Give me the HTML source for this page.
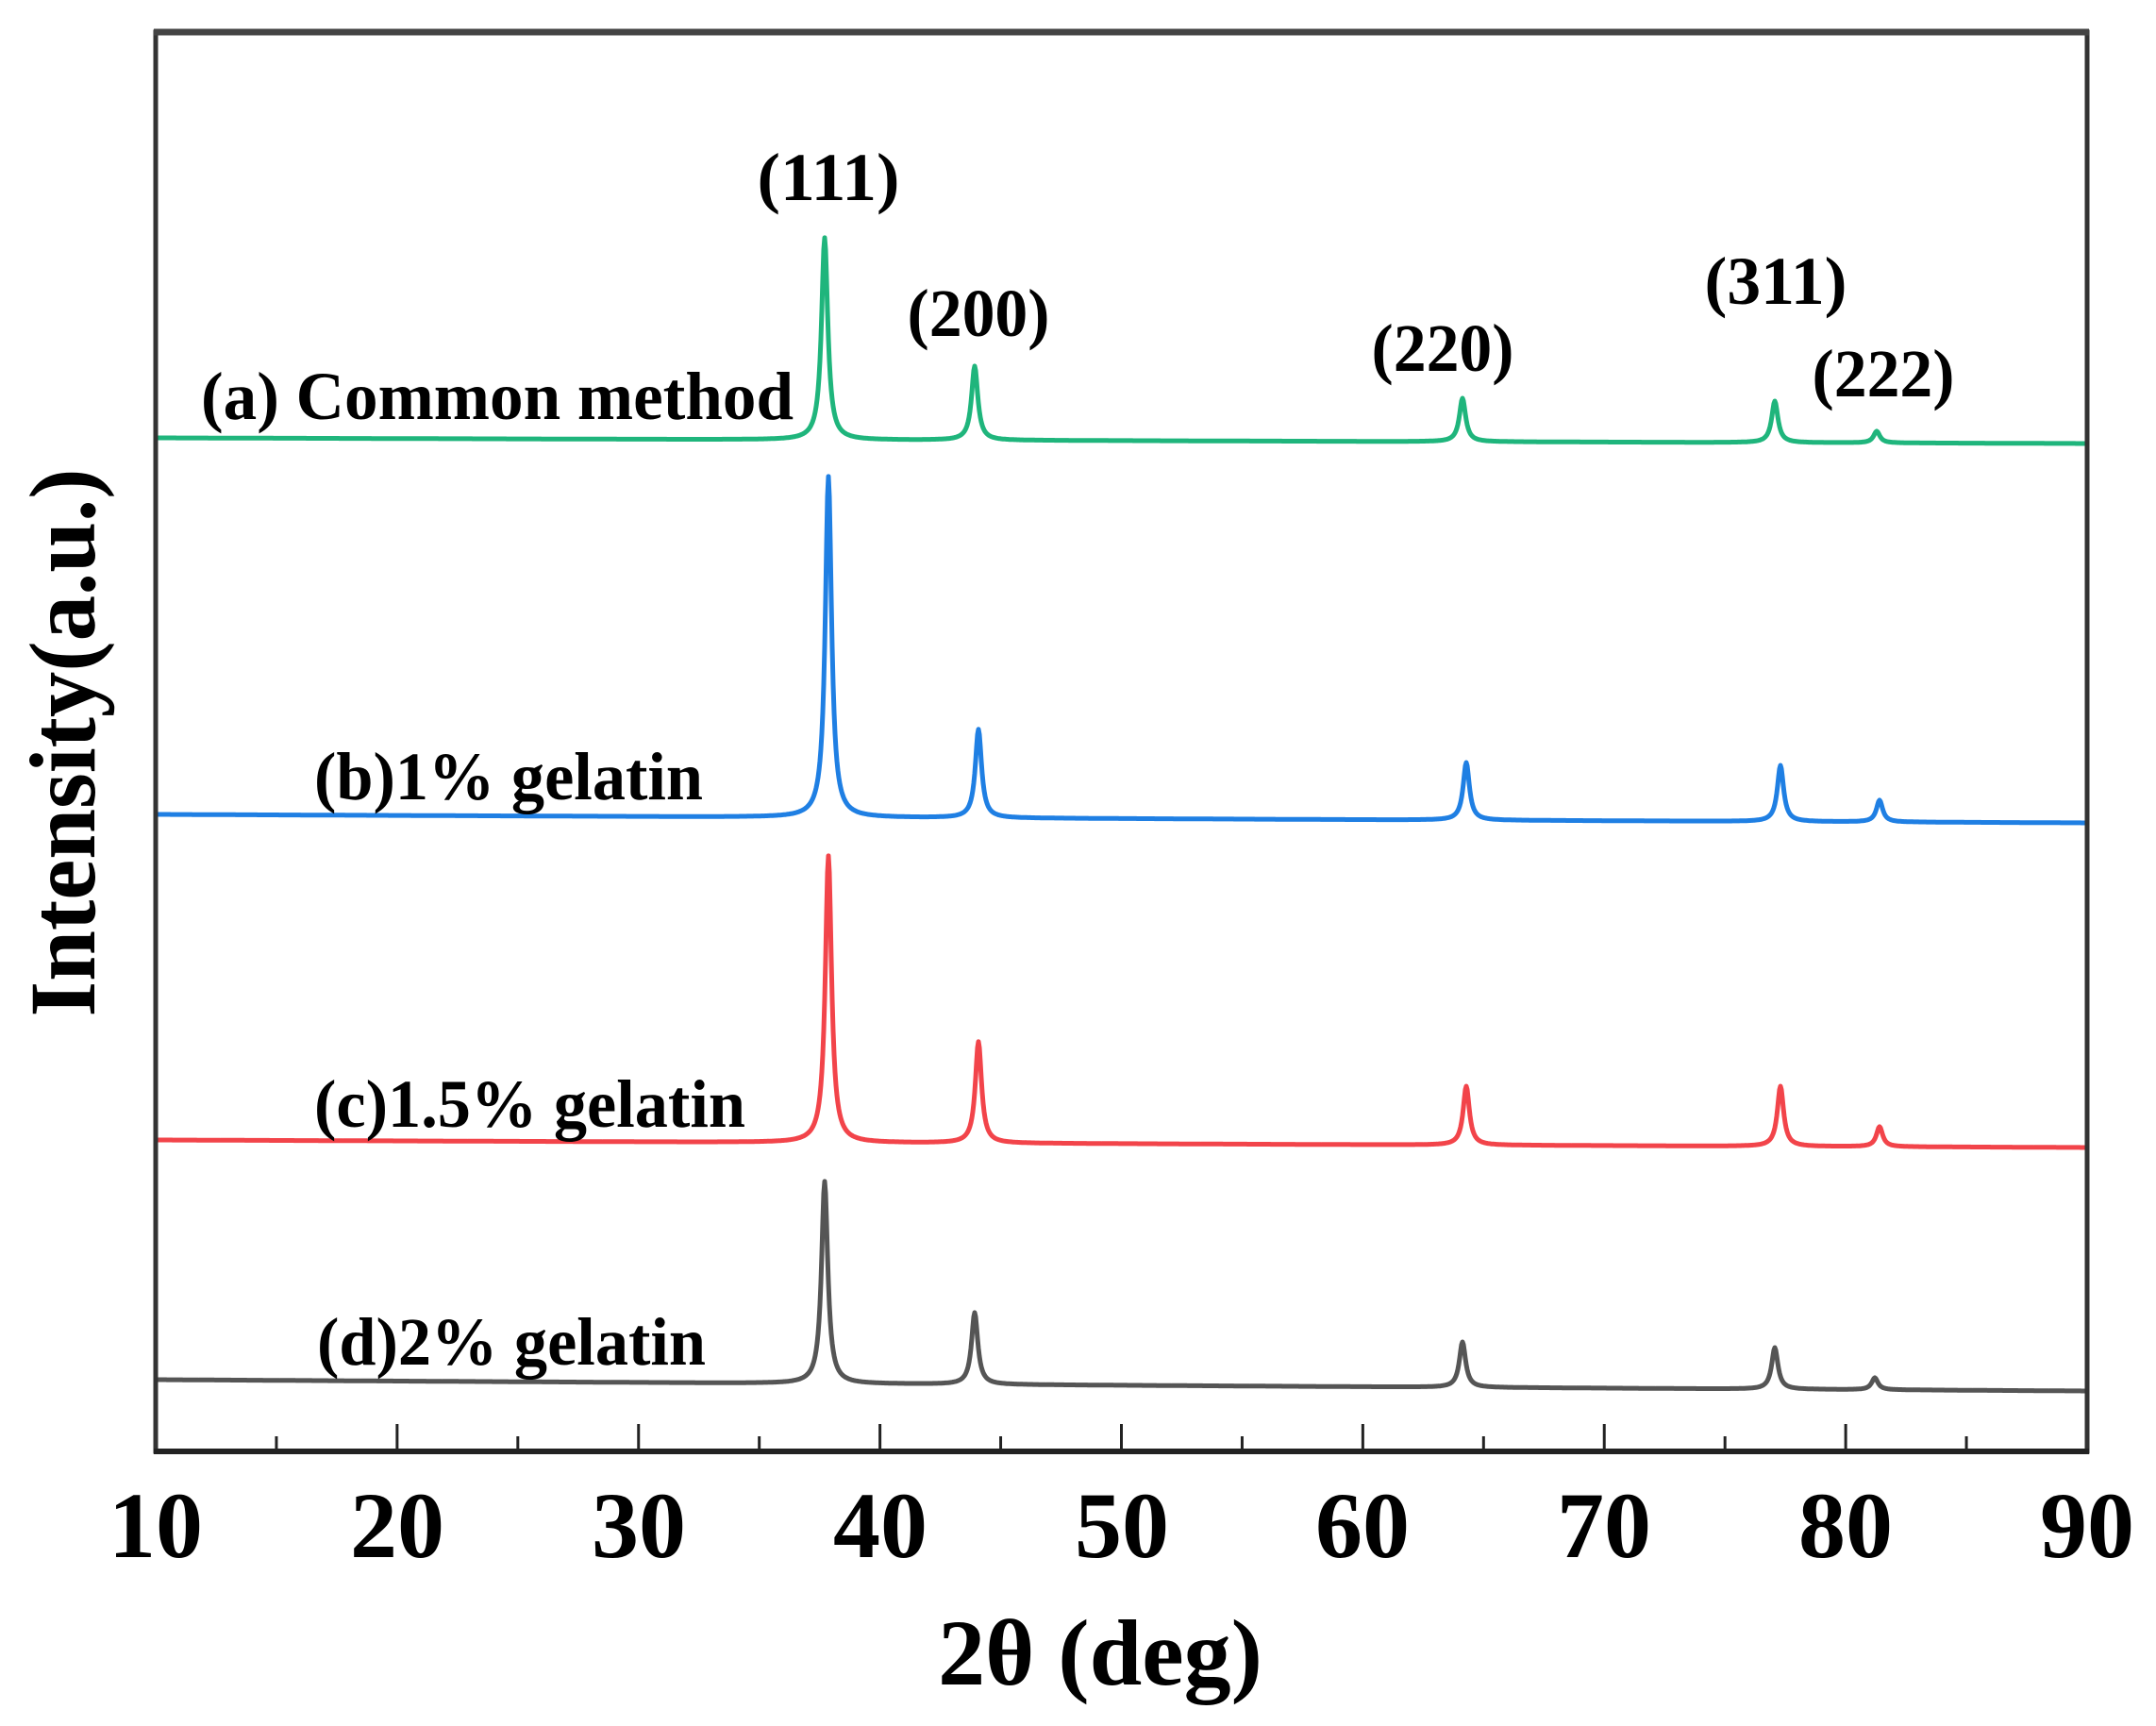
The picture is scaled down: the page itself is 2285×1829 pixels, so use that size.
<!DOCTYPE html>
<html><head><meta charset="utf-8"><style>
html,body{margin:0;padding:0;background:#fff;}
svg{display:block;}
text{font-family:"Liberation Serif",serif;font-weight:bold;fill:#000;}
</style></head><body>
<svg id="s" width="2285" height="1829" viewBox="0 0 2285 1829" xmlns="http://www.w3.org/2000/svg">
<g id="series" fill="none" stroke-width="5" stroke-linejoin="round"></g>
<rect x="165" y="34" width="2047" height="1504" fill="none" stroke="#333" stroke-width="5"/>
<line x1="163" y1="34" x2="2214" y2="34" stroke="#444" stroke-width="7"/>
<line x1="163" y1="1538" x2="2214" y2="1538" stroke="#222" stroke-width="6"/>
<g id="ticks" stroke="#222" stroke-width="3"></g>
<g font-size="100" text-anchor="middle">
<text x="165" y="1650">10</text><text x="421" y="1650">20</text><text x="677" y="1650">30</text>
<text x="933" y="1650">40</text><text x="1189" y="1650">50</text><text x="1444" y="1650">60</text>
<text x="1700" y="1650">70</text><text x="1956" y="1650">80</text><text x="2212" y="1650">90</text>
<text x="1166" y="1785">2θ (deg)</text>
</g>
<text font-size="100" text-anchor="middle" transform="translate(100,787) rotate(-90)" textLength="581" lengthAdjust="spacingAndGlyphs">Intensity(a.u.)</text>
<g font-size="72">
<text x="213" y="444" textLength="628" lengthAdjust="spacingAndGlyphs">(a) Common method</text>
<text x="333" y="847" textLength="412" lengthAdjust="spacingAndGlyphs">(b)1% gelatin</text>
<text x="333" y="1194" textLength="457" lengthAdjust="spacingAndGlyphs">(c)1.5% gelatin</text>
<text x="336" y="1446" textLength="412" lengthAdjust="spacingAndGlyphs">(d)2% gelatin</text>
</g>
<g font-size="72" text-anchor="middle">
<text x="878" y="212" textLength="151" lengthAdjust="spacingAndGlyphs">(111)</text>
<text x="1037" y="356" textLength="151" lengthAdjust="spacingAndGlyphs">(200)</text>
<text x="1529" y="393" textLength="151" lengthAdjust="spacingAndGlyphs">(220)</text>
<text x="1882" y="322" textLength="151" lengthAdjust="spacingAndGlyphs">(311)</text>
<text x="1996" y="420" textLength="151" lengthAdjust="spacingAndGlyphs">(222)</text>
</g>
</svg>
<script>
(function(){
var NS="http://www.w3.org/2000/svg";
var t=document.getElementById("ticks");
for(var i=0;i<=16;i++){
 var x=165+i*2047/16, L=(i%2==0)?29:16;
 if(i==0||i==16)continue;
 var l=document.createElementNS(NS,"line");
 l.setAttribute("x1",x);l.setAttribute("x2",x);
 l.setAttribute("y1",1538);l.setAttribute("y2",1538-L);
 t.appendChild(l);
}
var S=[
 {c:"#1fb57c",b0:464,b1:470,px:[874,1033,1550,1881,1989],top:[252,388,422,425,457]},
 {c:"#1f7fe3",b0:863,b1:872,px:[878,1037,1554,1887,1992],top:[505,773,808,811,848]},
 {c:"#f2444a",b0:1208,b1:1216,px:[878,1037,1554,1887,1992],top:[907,1104,1151,1151,1194]},
 {c:"#555555",b0:1462,b1:1474,px:[874,1033,1550,1881,1987],top:[1252,1391,1422,1428,1460]}
];
var g=document.getElementById("series");
S.forEach(function(s){
 var d="";
 for(var x=166;x<=2211;x+=1){
  var f=(x-166)/2045;
  var base=s.b0+(s.b1-s.b0)*f;
  var y=base;
  for(var k=0;k<s.px.length;k++){
   var bl=s.b0+(s.b1-s.b0)*(s.px[k]-166)/2045;
   var h=bl-s.top[k], gm=4, dx=x-s.px[k];
   y-=h*gm*gm/(dx*dx+gm*gm);
  }
  d+=(x==166?"M":"L")+x+" "+y.toFixed(1);
 }
 var p=document.createElementNS(NS,"path");
 p.setAttribute("d",d);p.setAttribute("stroke",s.c);
 g.appendChild(p);
});
})();
</script>
</body></html>
